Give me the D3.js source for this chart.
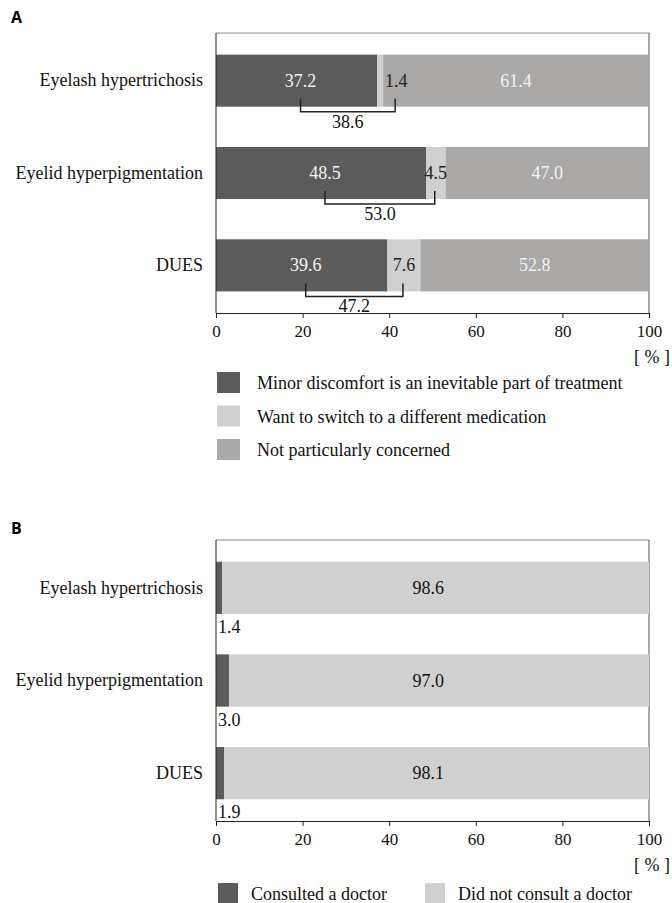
<!DOCTYPE html>
<html>
<head>
<meta charset="utf-8">
<script src="https://cdn.jsdelivr.net/npm/d3@7"></script>
</head>
<body style="margin:0;background:#fff">
<div id="graph"></div>
<script>
// panel A data
var categories = ["Eyelash hypertrichosis", "Eyelid hyperpigmentation", "DUES"];
var minorDiscomfort = [37.2, 48.5, 39.6];
var wantSwitch = [1.4, 4.5, 7.6];
var notConcerned = [61.4, 47.0, 52.8];
var combined = [38.6, 53.0, 47.2];
var seriesA = ["Minor discomfort is an inevitable part of treatment",
  "Want to switch to a different medication", "Not particularly concerned"];

// panel B data
var consulted = [1.4, 3.0, 1.9];
var notConsulted = [98.6, 97.0, 98.1];
var seriesB = ["Consulted a doctor", "Did not consult a doctor"];

var tickVals = [0, 20, 40, 60, 80, 100];

var DARK = "#5b5b5b", LIGHT = "#d0d0d0", MID = "#aba8a8";
var SERIF = "'Liberation Serif'";

var svg = d3.select("#graph").append("svg")
  .attr("width", 672).attr("height", 903);

var x = d3.scaleLinear().domain([0, 100]).range([216, 649]);

function fmt(v) { return v.toFixed(1); }

function txt(px, py, s, anchor, col) {
  return svg.append("text").attr("x", px).attr("y", py)
    .attr("text-anchor", anchor || "start")
    .style("font-family", SERIF).style("font-size", "18px")
    .attr("fill", col || "#111").text(s);
}

function drawFrame(top, bottom) {
  // top + right border of the plot box
  svg.append("line").attr("x1", x(0)).attr("x2", x(100))
    .attr("y1", top).attr("y2", top).attr("stroke", "#888").attr("stroke-width", 1);
  svg.append("line").attr("x1", x(100)).attr("x2", x(100))
    .attr("y1", top).attr("y2", bottom).attr("stroke", "#555").attr("stroke-width", 1);
}

function drawAxes(y, top, bottom) {
  var xAxis = svg.append("g")
    .attr("transform", "translate(0," + bottom + ")")
    .attr("font-family", SERIF)
    .call(d3.axisBottom(x).tickValues(tickVals).tickSize(5).tickPadding(7));
  xAxis.attr("font-family", null).attr("font-size", null);
  xAxis.select(".domain").attr("stroke", "#222");
  xAxis.selectAll("line").attr("stroke", "#222");
  xAxis.selectAll("text").attr("fill", "#111")
    .style("font-family", SERIF).style("font-size", "17px");

  var yAxis = svg.append("g")
    .attr("transform", "translate(" + x(0) + ",0)")
    .call(d3.axisLeft(y).tickSize(0).tickPadding(13));
  yAxis.attr("font-family", null).attr("font-size", null);
  yAxis.select(".domain").attr("d", "M0," + top + "V" + bottom).attr("stroke", "#222");
  yAxis.selectAll("text").attr("fill", "#111")
    .style("font-family", SERIF).style("font-size", "18px");

  txt(x(100) + 3, bottom + 50, "[ % ]", "middle");
}

// ---------- Panel A ----------
var topA = 33, botA = 313;
var yA = d3.scaleBand().domain(categories).range([topA, botA])
  .paddingInner(0.436).paddingOuter(0.234);

svg.append("text").attr("x", 11).attr("y", 23)
  .style("font-family", "'Open Sans'").style("font-size", "16px").style("font-weight", "bold")
  .text("A");

drawFrame(topA, botA);

var stackA = categories.map(function (c, i) {
  return [
    { c: c, x0: 0, x1: minorDiscomfort[i], col: DARK },
    { c: c, x0: minorDiscomfort[i], x1: minorDiscomfort[i] + wantSwitch[i], col: LIGHT },
    { c: c, x0: minorDiscomfort[i] + wantSwitch[i], x1: 100, col: MID }
  ];
});

var rowsA = svg.selectAll(".rowA").data(stackA).enter().append("g");
rowsA.selectAll("rect").data(function (d) { return d; }).enter().append("rect")
  .attr("x", function (d) { return x(d.x0); })
  .attr("width", function (d) { return x(d.x1) - x(d.x0); })
  .attr("y", function (d) { return yA(d.c); })
  .attr("height", yA.bandwidth())
  .attr("fill", function (d) { return d.col; });

// where the light-segment label sits
function lightLabelX(i) {
  var x0 = x(minorDiscomfort[i]), x1 = x(minorDiscomfort[i] + wantSwitch[i]);
  if (x1 - x0 < 10) return x1 + 13;
  return (x0 + x1) / 2;
}
function darkLabelX(i) { return x(minorDiscomfort[i] / 2) + 4; }

categories.forEach(function (c, i) {
  var cy = yA(c) + yA.bandwidth() / 2 + 6;
  txt(darkLabelX(i), cy, fmt(minorDiscomfort[i]), "middle", "#f4f4f4");
  txt(lightLabelX(i), cy, fmt(wantSwitch[i]), "middle", "#222");
  txt(x((minorDiscomfort[i] + wantSwitch[i] + 100) / 2), cy, fmt(notConcerned[i]), "middle", "#f2f2f2");

  // bracket showing the combined value
  var bx0 = darkLabelX(i), bx1 = lightLabelX(i) - 1;
  var by = yA(c) + yA.bandwidth();
  svg.append("path")
    .attr("d", "M" + bx0 + "," + (by - 8) + "V" + (by + 5) + "H" + bx1 + "V" + (by - 8))
    .attr("fill", "none").attr("stroke", "#222").attr("stroke-width", 1.5);
  txt((bx0 + bx1) / 2, by + 21, fmt(combined[i]), "middle");
});

drawAxes(yA, topA, botA);

// legend A
var legA = svg.selectAll(".legA").data(seriesA).enter().append("g")
  .attr("transform", function (d, i) { return "translate(217," + (372 + i * 33.5) + ")"; });
legA.append("rect").attr("width", 23).attr("height", 21)
  .attr("fill", function (d, i) { return [DARK, LIGHT, MID][i]; });
legA.append("text").attr("x", 40).attr("y", 17).attr("fill", "#111")
  .style("font-family", SERIF).style("font-size", "18px")
  .text(function (d) { return d; });

// ---------- Panel B ----------
var topB = 540, botB = 821;
var yB = d3.scaleBand().domain(categories).range([topB, botB])
  .paddingInner(0.436).paddingOuter(0.234);

svg.append("text").attr("x", 11).attr("y", 534)
  .style("font-family", "'Open Sans'").style("font-size", "16px").style("font-weight", "bold")
  .text("B");

drawFrame(topB, botB);

var stackB = categories.map(function (c, i) {
  return [
    { c: c, x0: 0, x1: consulted[i], col: DARK },
    { c: c, x0: consulted[i], x1: 100, col: LIGHT }
  ];
});
var rowsB = svg.selectAll(".rowB").data(stackB).enter().append("g");
rowsB.selectAll("rect").data(function (d) { return d; }).enter().append("rect")
  .attr("x", function (d) { return x(d.x0); })
  .attr("width", function (d) { return x(d.x1) - x(d.x0); })
  .attr("y", function (d) { return yB(d.c); })
  .attr("height", yB.bandwidth())
  .attr("fill", function (d) { return d.col; });

categories.forEach(function (c, i) {
  txt(x(49), yB(c) + yB.bandwidth() / 2 + 6, fmt(notConsulted[i]), "middle");
  txt(x(0) + 2, yB(c) + yB.bandwidth() + 19, fmt(consulted[i]));
});

drawAxes(yB, topB, botB);

// legend B
var legBx = [218, 425];
var legB = svg.selectAll(".legB").data(seriesB).enter().append("g")
  .attr("transform", function (d, i) { return "translate(" + legBx[i] + ",883)"; });
legB.append("rect").attr("width", 20).attr("height", 22)
  .attr("fill", function (d, i) { return [DARK, LIGHT][i]; });
legB.append("text").attr("x", 33).attr("y", 17).attr("fill", "#111")
  .style("font-family", SERIF).style("font-size", "18px")
  .text(function (d) { return d; });
</script>
</body>
</html>
